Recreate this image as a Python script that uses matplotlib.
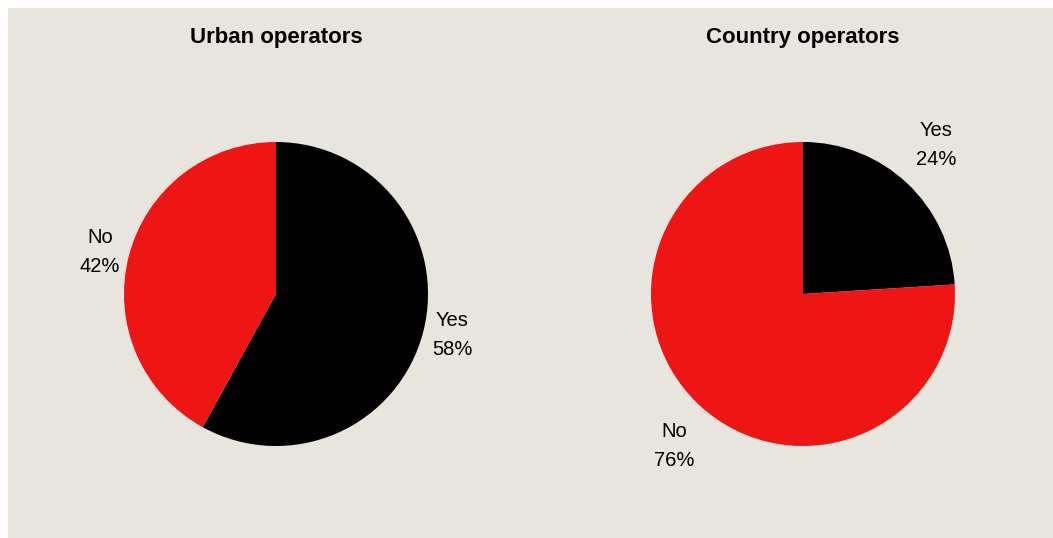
import matplotlib.pyplot as plt
from matplotlib.patches import Rectangle

plt.rcParams['font.family'] = ['Liberation Sans', 'DejaVu Sans']

labels = ['Yes', 'No']
urban = [58, 42]
country = [24, 76]
titles = ['Urban operators', 'Country operators']
colors = ['#000000', '#EE1515']

W, H = 1053, 538
fig = plt.figure(figsize=(W / 100, H / 100), dpi=100, facecolor='white')
# beige panel (small white strip on top and left)
fig.patches.append(Rectangle((8 / W, 0), 1 - 8 / W, 1 - 8 / H, transform=fig.transFigure,
                             facecolor='#E8E5DF', edgecolor='none', zorder=-1))

# pie centres and radius in pixels
centres = [(276, 294), (803, 294)]
r = 152
# label positions (pixels, centre of text block)
label_pos = [
    [(452, 335), (100, 252)],
    [(936, 145), (674, 446)],
]

for i, vals in enumerate([urban, country]):
    cx, cy = centres[i]
    ax = fig.add_axes([(cx - r) / W, (H - cy - r) / H, 2 * r / W, 2 * r / H])
    ax.pie(vals, colors=colors, startangle=90, counterclock=False,
           wedgeprops=dict(linewidth=0))
    ax.set_xlim(-1, 1)
    ax.set_ylim(-1, 1)
    ax.set_aspect('equal')
    ax.axis('off')
    for j, lab in enumerate(labels):
        lx, ly = label_pos[i][j]
        fig.text(lx / W, 1 - ly / H, f'{lab}\n{vals[j]}%', ha='center', va='center',
                 fontsize=14.5, linespacing=1.7)
    fig.text(cx / W, 1 - 38 / H, titles[i], ha='center', va='center',
             fontsize=16, fontweight='bold')

fig.savefig('out.png', dpi=100, facecolor=fig.get_facecolor())
